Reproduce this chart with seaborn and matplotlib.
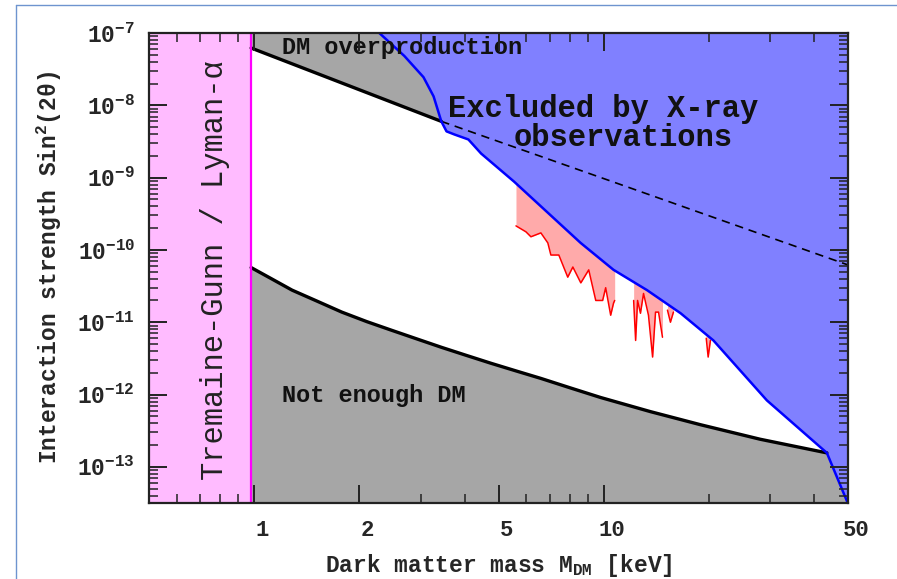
import numpy as np
import pandas as pd
import matplotlib
matplotlib.use("Agg")
import matplotlib.pyplot as plt
import matplotlib.ticker as mticker
import matplotlib.transforms as mtransforms
from matplotlib.lines import Line2D
import seaborn as sns

# ---------------------------------------------------------------- data ----
# Tremaine-Gunn / Lyman-alpha lower mass bound [keV]
tg_limit_kev = 0.98

# DM overproduction boundary (solid up to the X-ray limit, dashed beyond)
overprod_mass = [0.98, 2.0, 3.43, 10.0, 50.0]
overprod_sin2 = [6.2e-8, 1.64e-8, 6.0e-9, 9.7e-10, 6.2e-11]
overprod_split = 3.43

# "Not enough DM" boundary
underprod_mass = [0.98, 1.125, 1.283, 1.512, 1.781, 2.099, 2.473, 2.913,
                  3.433, 4.045, 4.766, 5.615, 6.614, 8.05, 9.80, 13.61,
                  18.90, 28.02, 43.5]
underprod_sin2 = [5.7e-11, 3.95e-11, 2.78e-11, 1.96e-11, 1.38e-11, 1.02e-11,
                  7.74e-12, 5.9e-12, 4.5e-12, 3.48e-12, 2.7e-12, 2.12e-12,
                  1.67e-12, 1.23e-12, 9.1e-13, 5.8e-13, 3.83e-13, 2.41e-13,
                  1.56e-13]

# X-ray exclusion limit
xray_mass = [2.28, 2.69, 3.05, 3.26, 3.43, 3.55, 3.74, 4.10, 4.46, 5.54,
             6.92, 8.59, 10.67, 13.3, 16.6, 20.6, 29.3, 43.5, 50.0]
xray_sin2 = [1.0e-7, 4.8e-8, 2.45e-8, 1.33e-8, 6.0e-9, 4.36e-9, 3.95e-9,
             3.37e-9, 2.15e-9, 8.8e-10, 3.27e-10, 1.25e-10, 5.3e-11,
             2.78e-11, 1.33e-11, 5.6e-12, 8.3e-13, 1.56e-13, 3.1e-14]

# Lower edge of the resonantly produced (red) band, in separate pieces
band_segment = [0] * 17 + [1] * 10 + [2] * 3 + [3] * 3
band_mass = [5.61, 5.99, 6.19, 6.61, 6.92, 7.06, 7.44, 7.89, 8.16, 8.60,
             9.06, 9.49, 9.93, 10.13, 10.47, 10.67, 10.75,
             12.18, 12.34, 12.50, 12.74, 13.0, 13.43, 13.8, 14.07, 14.35, 14.73,
             15.22, 15.52, 15.83,
             19.65, 19.9, 20.2]
band_sin2 = [2.15e-10, 1.78e-10, 1.52e-10, 1.72e-10, 1.25e-10, 8.5e-11,
             8.5e-11, 4.2e-11, 5.8e-11, 3.5e-11, 5.3e-11, 2.0e-11, 2.0e-11,
             3.0e-11, 1.25e-11, 1.84e-11, 2.0e-11,
             2.0e-11, 5.6e-12, 2.0e-11, 1.33e-11, 2.5e-11, 1.25e-11, 3.3e-12,
             1.38e-11, 1.38e-11, 6.2e-12,
             1.47e-11, 1.0e-11, 1.38e-11,
             6.0e-12, 3.3e-12, 5.6e-12]

x_ticks = [1, 2, 5, 10, 50]
x_tick_labels = ["1", "2", "5", "10", "50"]
x_minor_ticks = [0.6, 0.7, 0.8, 0.9, 3, 4, 6, 7, 8, 9, 20, 30, 40]
x_range = (0.5, 50.0)
y_range = (10 ** -13.5, 1e-7)

# --------------------------------------------------------------- style ----
sns.set_theme(style="ticks")
mono = "Liberation Mono"
plt.rcParams["font.family"] = [mono, "DejaVu Sans"]
plt.rcParams["mathtext.fontset"] = "custom"
plt.rcParams["mathtext.rm"] = "Liberation Mono:bold"
plt.rcParams["mathtext.it"] = "Liberation Mono:bold"
plt.rcParams["mathtext.bf"] = "Liberation Mono:bold"
plt.rcParams["axes.axisbelow"] = False

pink = "#FFBBFF"
magenta = "#FF00FF"
grey = "#A6A6A6"
blue_fill = "#8080FF"
blue_line = "#0000FF"
red_fill = "#FFAAAA"
red_line = "#FF0000"

fig = plt.figure(figsize=(8.97, 5.79), dpi=100)
ax = fig.add_axes([149 / 897, 76 / 579, 699 / 897, 470 / 579])
ax.set_xscale("log")
ax.set_yscale("log")
ax.set_xlim(*x_range)
ax.set_ylim(*y_range)
ax.set_facecolor("white")

over = pd.DataFrame({"mass": overprod_mass, "sin2": overprod_sin2})
under = pd.DataFrame({"mass": underprod_mass, "sin2": underprod_sin2})
xray = pd.DataFrame({"mass": xray_mass, "sin2": xray_sin2})
band = pd.DataFrame({"segment": band_segment, "mass": band_mass, "sin2": band_sin2})

over_solid = over[over["mass"] <= overprod_split]
over_dash = over[over["mass"] >= overprod_split]

# Tremaine-Gunn / Lyman-alpha excluded strip
ax.axvspan(x_range[0], tg_limit_kev, color=pink, lw=0, zorder=1)
ax.axvline(tg_limit_kev, color=magenta, lw=1.6, zorder=6)

# Grey regions: too much DM (top) and not enough DM (bottom)
ax.fill_between(over_solid["mass"], over_solid["sin2"], y_range[1],
                color=grey, lw=0, zorder=1)
xray_tail = xray[xray["mass"] > underprod_mass[-1]]
low_edge = pd.concat([under, xray_tail], ignore_index=True)
ax.fill_between(low_edge["mass"], y_range[0], low_edge["sin2"],
                color=grey, lw=0, zorder=1)

# Red band, filled up underneath the X-ray region
for _, seg in band.groupby("segment"):
    ax.fill_between(seg["mass"], seg["sin2"], y_range[1],
                    color=red_fill, lw=0, zorder=2)

# X-ray excluded region
ax.fill_between(xray["mass"], xray["sin2"], y_range[1],
                color=blue_fill, lw=0, zorder=3)

# Boundary curves
sns.lineplot(data=band, x="mass", y="sin2", units="segment", estimator=None,
             sort=False, color=red_line, lw=1.1, ax=ax, zorder=4)
sns.lineplot(data=over_solid, x="mass", y="sin2", estimator=None, sort=False,
             color="black", lw=2.4, ax=ax, zorder=5)
sns.lineplot(data=over_dash, x="mass", y="sin2", estimator=None, sort=False,
             color="black", lw=1.2, ax=ax, zorder=5, dashes=False,
             linestyle=(0, (5, 3.5)))
sns.lineplot(data=under, x="mass", y="sin2", estimator=None, sort=False,
             color="black", lw=2.4, ax=ax, zorder=5)
sns.lineplot(data=xray, x="mass", y="sin2", estimator=None, sort=False,
             color=blue_line, lw=1.8, ax=ax, zorder=5)

# ---------------------------------------------------------------- axes ----
ax.xaxis.set_major_locator(mticker.FixedLocator(x_ticks))
ax.xaxis.set_major_formatter(mticker.FixedFormatter(x_tick_labels))
ax.xaxis.set_minor_locator(mticker.FixedLocator(x_minor_ticks))
ax.xaxis.set_minor_formatter(mticker.NullFormatter())
ax.yaxis.set_major_locator(mticker.LogLocator(base=10, numticks=20))
ax.yaxis.set_minor_locator(mticker.LogLocator(base=10, subs=np.arange(2, 10), numticks=20))
ax.yaxis.set_major_formatter(mticker.FuncFormatter(
    lambda v, _: r"$\mathbf{10^{%d}}$" % int(round(np.log10(v)))))
ax.yaxis.set_minor_formatter(mticker.NullFormatter())

ax.tick_params(which="both", direction="in", top=True, right=True,
               color="#222222")
ax.tick_params(which="major", length=13, width=1.4)
ax.tick_params(which="minor", length=6.5, width=1.1)
ax.tick_params(axis="x", which="major", pad=12, labelsize=16)
ax.tick_params(axis="y", which="major", pad=10, labelsize=16.5)
ax.xaxis.set_zorder(10)
ax.yaxis.set_zorder(10)
for lbl in ax.get_xticklabels() + ax.get_yticklabels():
    lbl.set_fontweight("bold")
shift = mtransforms.ScaledTranslation(8 / 100, 0, fig.dpi_scale_trans)
for lbl in ax.get_xticklabels():
    lbl.set_transform(lbl.get_transform() + shift)

for sp in ax.spines.values():
    sp.set_color("#222222")
    sp.set_linewidth(1.6)
    sp.set_zorder(11)

ax.set_xlabel(r"Dark matter mass M$_{\mathrm{DM}}$ [keV]", fontsize=16.5,
              fontweight="bold")
ax.set_ylabel(r"Interaction strength Sin$^{2}$(2θ)", fontsize=16.5,
              fontweight="bold")
ax.yaxis.set_label_coords(-0.121, 0.5)
ax.xaxis.set_label_coords(0.5, -0.104)

# ------------------------------------------------------------- labels -----
txt = dict(family=mono, fontweight="bold", color="#111111", zorder=8)
ax.text(1.20, 6.4e-8, "DM overproduction", fontsize=17, ha="left", va="center", **txt)
ax.text(1.20, 9.7e-13, "Not enough DM", fontsize=17, ha="left", va="center", **txt)
ax.text(9.94, 9.0e-9, "Excluded by X-ray", fontsize=22, ha="center", va="center", **txt)
ax.text(11.4, 3.5e-9, "observations", fontsize=22, ha="center", va="center", **txt)
ax.text(0.774, 5.3e-11, "Tremaine-Gunn / Lyman-α", fontsize=22, rotation=90,
        ha="center", va="center", family=mono, color="#222222", zorder=8)

# thin frame along the top and left of the canvas
frame_c = "#6E94CF"
fig.add_artist(Line2D([16 / 897, 1.0], [1 - 5 / 579, 1 - 5 / 579],
                      color=frame_c, lw=1.0, transform=fig.transFigure))
fig.add_artist(Line2D([16 / 897, 16 / 897], [0.0, 1 - 5 / 579],
                      color=frame_c, lw=1.0, transform=fig.transFigure))

fig.savefig("out.png", dpi=100)
